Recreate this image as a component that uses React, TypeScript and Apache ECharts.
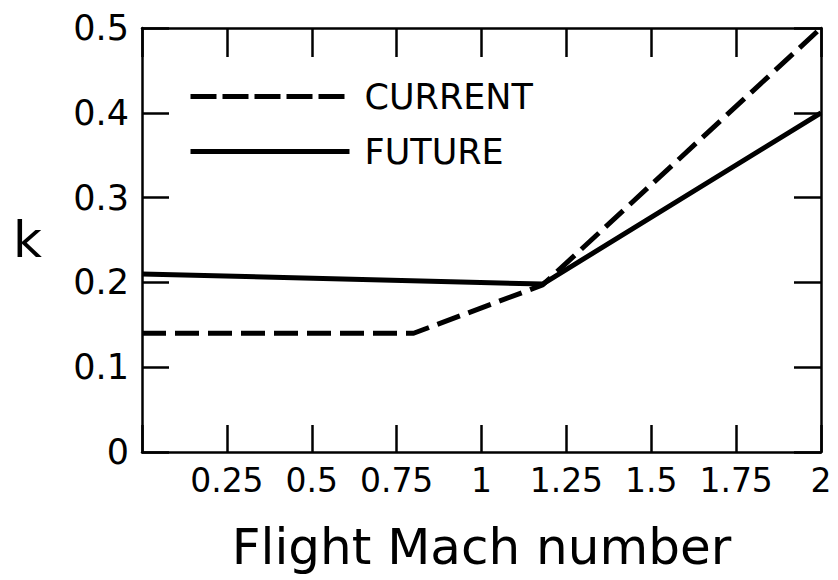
import React, { useEffect, useRef } from "react";
import * as echarts from "echarts";

const xTickValues = [0, 0.25, 0.5, 0.75, 1, 1.25, 1.5, 1.75, 2];
const xTickLabels = ["", "0.25", "0.5", "0.75", "1", "1.25", "1.5", "1.75", "2"];
const yTickValues = [0, 0.1, 0.2, 0.3, 0.4, 0.5];
const yTickLabels = ["0", "0.1", "0.2", "0.3", "0.4", "0.5"];

const currentMach = [0, 0.8, 1.18, 2];
const currentK = [0.14, 0.14, 0.197, 0.5];
const futureMach = [0, 1.18, 2];
const futureK = [0.21, 0.198, 0.4];

const seriesNames = ["CURRENT", "FUTURE"];
const xTitle = "Flight Mach number";
const yTitle = "k";

const FONT = "DejaVu Sans";

function labelFor(values: number[], labels: string[], v: number) {
  const i = values.findIndex((t) => Math.abs(t - v) < 1e-6);
  return i >= 0 ? labels[i] : "";
}

export default function App() {
  const ref = useRef<HTMLDivElement>(null);
  useEffect(() => {
    if (!ref.current) return;
    const chart = echarts.init(ref.current, null, { renderer: "svg" });
    const axisLine = { show: true, onZero: false, lineStyle: { color: "#000", width: 2.5 } };
    const tick = { show: true, inside: true, length: 27, lineStyle: { color: "#000", width: 2.5 } };
    const dashed = [24, 9];
    chart.setOption({
      animation: false,
      backgroundColor: "#fff",
      textStyle: { fontFamily: FONT },
      grid: { left: 142, right: 17, top: 28, bottom: 128, containLabel: false },
      legend: {
        show: true,
        orient: "vertical",
        left: 188,
        top: 79,
        padding: 0,
        itemWidth: 159,
        itemHeight: 14,
        itemGap: 20,
        itemStyle: { opacity: 0 },
        data: [
          { name: seriesNames[0], lineStyle: { width: 5, type: [26, 6], color: "#000" } },
          { name: seriesNames[1], lineStyle: { width: 5, type: "solid", color: "#000" } },
        ],
        textStyle: { fontFamily: FONT, fontSize: 35, color: "#000", padding: [0, 0, 0, 10], lineHeight: 35 },
        selectedMode: false,
      },
      xAxis: [
        {
          type: "value",
          min: 0,
          max: 2,
          interval: 0.25,
          position: "bottom",
          name: xTitle,
          nameLocation: "middle",
          nameGap: 70,
          nameTextStyle: { fontFamily: FONT, fontSize: 50, color: "#000" },
          axisLine,
          axisTick: tick,
          splitLine: { show: false },
          axisLabel: {
            margin: 12,
            fontFamily: FONT,
            fontSize: 33,
            color: "#000",
            formatter: (v: number) => labelFor(xTickValues, xTickLabels, v),
          },
        },
        {
          type: "value",
          min: 0,
          max: 2,
          interval: 0.25,
          position: "top",
          axisLine,
          axisTick: { ...tick, length: 29 },
          splitLine: { show: false },
          axisLabel: { show: false },
        },
      ],
      yAxis: [
        {
          type: "value",
          min: 0,
          max: 0.5,
          interval: 0.1,
          position: "left",
          name: yTitle,
          nameLocation: "middle",
          nameRotate: 0,
          nameGap: 100,
          nameTextStyle: { fontFamily: FONT, fontSize: 50, color: "#000" },
          axisLine,
          axisTick: tick,
          splitLine: { show: false },
          axisLabel: {
            margin: 13,
            fontFamily: FONT,
            fontSize: 35,
            color: "#000",
            formatter: (v: number) => labelFor(yTickValues, yTickLabels, v),
          },
        },
        {
          type: "value",
          min: 0,
          max: 0.5,
          interval: 0.1,
          position: "right",
          axisLine,
          axisTick: tick,
          splitLine: { show: false },
          axisLabel: { show: false },
        },
      ],
      series: [
        {
          name: seriesNames[0],
          type: "line",
          symbol: "none",
          data: currentMach.map((x, i) => [x, currentK[i]]),
          lineStyle: { color: "#000", width: 5, type: dashed },
          itemStyle: { color: "#000" },
        },
        {
          name: seriesNames[1],
          type: "line",
          symbol: "none",
          data: futureMach.map((x, i) => [x, futureK[i]]),
          lineStyle: { color: "#000", width: 5, type: "solid" },
          itemStyle: { color: "#000" },
        },
      ],
    });
    return () => chart.dispose();
  }, []);
  return (
    <div
      ref={ref}
      style={{ position: "absolute", left: 0, top: 0, width: 838, height: 580 }}
    />
  );
}
